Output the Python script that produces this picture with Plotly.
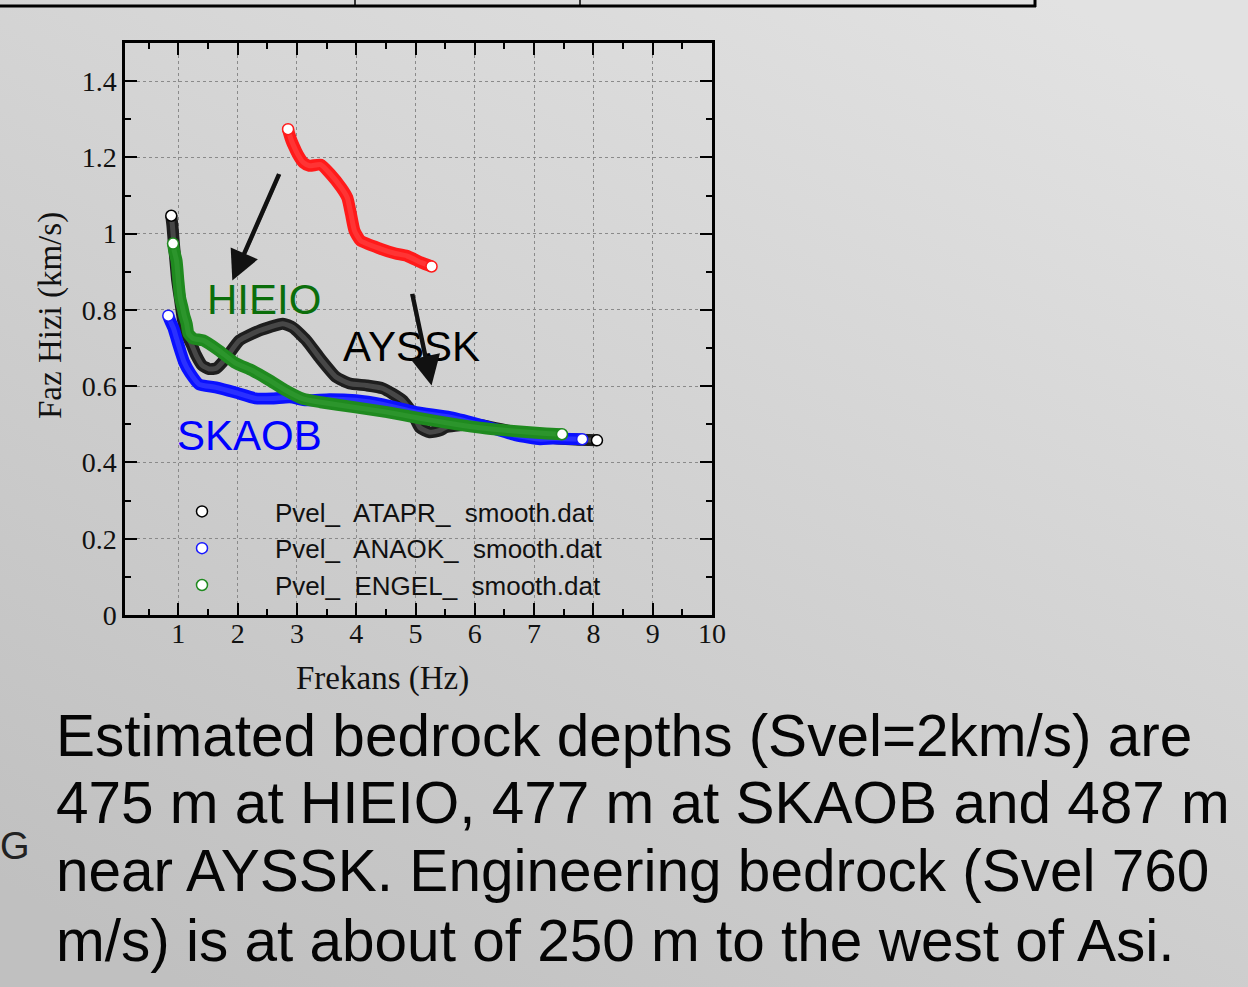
import base64
import plotly.graph_objects as go

# Phase-velocity dispersion curves (frequency in Hz, velocity in km/s)
atapr_f = [0.88, 0.90, 0.92, 0.95, 0.98, 1.03, 1.08, 1.15, 1.23, 1.30, 1.40, 1.52, 1.64, 1.81,
           2.03, 2.37, 2.76, 2.93, 3.16, 3.38, 3.66, 3.89, 4.17, 4.45, 4.78, 4.95, 5.07, 5.24,
           5.41, 5.52, 6.00, 6.60, 7.20, 7.70, 8.06]
atapr_v = [1.047, 1.021, 0.982, 0.929, 0.877, 0.825, 0.772, 0.733, 0.707, 0.681, 0.655, 0.645,
           0.647, 0.675, 0.720, 0.746, 0.764, 0.754, 0.720, 0.675, 0.624, 0.607, 0.602, 0.594,
           0.563, 0.529, 0.492, 0.479, 0.484, 0.493, 0.500, 0.482, 0.466, 0.460, 0.458]

anaok_f = [0.83, 0.86, 0.92, 0.97, 1.03, 1.10, 1.20, 1.35, 1.63, 1.95, 2.30, 2.59, 2.88, 3.16,
           3.55, 3.99, 4.45, 5.01, 5.58, 6.14, 6.70, 7.10, 7.32, 7.81]
anaok_v = [0.785, 0.772, 0.751, 0.725, 0.694, 0.662, 0.634, 0.605, 0.597, 0.584, 0.568, 0.568,
           0.571, 0.563, 0.566, 0.563, 0.552, 0.532, 0.519, 0.497, 0.471, 0.461, 0.463, 0.461]

engel_f = [0.91, 0.93, 0.97, 1.00, 1.03, 1.07, 1.10, 1.14, 1.17, 1.25, 1.42, 1.68, 1.95, 2.25,
           2.52, 2.80, 3.10, 3.40, 3.96, 4.52, 5.07, 5.64, 6.20, 6.76, 7.20, 7.47]
engel_v = [0.974, 0.955, 0.929, 0.877, 0.832, 0.806, 0.785, 0.764, 0.738, 0.725, 0.720, 0.694,
           0.662, 0.641, 0.617, 0.590, 0.567, 0.558, 0.545, 0.532, 0.516, 0.501, 0.489, 0.481,
           0.476, 0.474]

red_f = [2.85, 2.87, 2.91, 2.96, 3.01, 3.11, 3.21, 3.40, 3.56, 3.75, 3.85, 3.91, 3.97, 4.07,
         4.40, 4.66, 4.85, 5.10, 5.27]
red_v = [1.274, 1.262, 1.243, 1.225, 1.209, 1.186, 1.178, 1.181, 1.157, 1.120, 1.094, 1.052,
         1.008, 0.982, 0.961, 0.948, 0.942, 0.924, 0.914]

NB = "\u00a0"
legend_names = [f"Pvel_{NB} ATAPR_{NB} smooth.dat",
                f"Pvel_{NB} ANAOK_{NB} smooth.dat",
                f"Pvel_{NB} ENGEL_{NB} smooth.dat"]
station_labels = ["HIEIO", "AYSSK", "SKAOB"]

x_ticks = [1, 2, 3, 4, 5, 6, 7, 8, 9, 10]

body_lines = [
    "Estimated bedrock depths (Svel=2km/s) are",
    "475 m at HIEIO, 477 m at SKAOB and 487 m",
    "near AYSSK. Engineering bedrock (Svel 760",
    "m/s) is at about of 250 m to the west of Asi.",
]

W, H = 1248, 987
L, R, T, B = 125, 712, 43, 615


def px(x):
    return (x - L) / (R - L)


def py(y):
    return (B - y) / (B - T)


SERIF = "Liberation Serif, Times New Roman, serif"
SANS = "Liberation Sans, Arial, sans-serif"

fig = go.Figure()

# (freq, vel, band colour, inner tint, marker outline, legend name, in legend)
series = [
    (atapr_f, atapr_v, "#1e1e1e", "#474747", "black", legend_names[0], True),
    (anaok_f, anaok_v, "#0a10ff", "#2a30ff", "#1a1aff", legend_names[1], True),
    (engel_f, engel_v, "#1f8a1f", "#2c952c", "#1f8a1f", legend_names[2], True),
    (red_f, red_v, "#ff1a1a", "#ff3434", "#ff1a1a", "red", False),
]

# thick bands for the densely sampled curves, with a lighter core
for f, v, col, tint, _, name, _ in series:
    fig.add_trace(go.Scatter(
        x=f, y=v, mode="lines",
        line=dict(color=col, width=12, shape="spline", smoothing=0.5),
        showlegend=False, hoverinfo="skip",
    ))
    fig.add_trace(go.Scatter(
        x=f, y=v, mode="lines",
        line=dict(color=tint, width=5, shape="spline", smoothing=0.5),
        showlegend=False, hoverinfo="skip",
    ))

# open circle markers at the curve ends (also drive the legend)
for i, (f, v, col, tint, mcol, name, show) in enumerate(series):
    fig.add_trace(go.Scatter(
        x=[f[0], f[-1]], y=[v[0], v[-1]], mode="markers",
        marker=dict(symbol="circle", size=11, color="white",
                    line=dict(color=mcol, width=1.5)),
        name=name, showlegend=show, legendgroup=f"g{i}",
    ))

# gradient backdrop
svg = (
    f'<svg xmlns="http://www.w3.org/2000/svg" width="{W}" height="{H}">'
    '<defs><linearGradient id="g" x1="0.85" y1="0" x2="0.15" y2="1">'
    '<stop offset="0" stop-color="#e2e2e2"/><stop offset="1" stop-color="#c0c0c0"/>'
    '</linearGradient></defs>'
    f'<rect width="{W}" height="{H}" fill="url(#g)"/></svg>'
)
bg_src = "data:image/svg+xml;base64," + base64.b64encode(svg.encode()).decode()

annotations = [
    dict(text="Frekans (Hz)", x=px(382), y=py(678), xref="paper", yref="paper",
         xanchor="center", yanchor="middle", showarrow=False,
         font=dict(family=SERIF, size=33, color="#111")),
    dict(text="Faz Hizi (km/s)", x=px(50), y=py(316), xref="paper", yref="paper",
         xanchor="center", yanchor="middle", textangle=-90, showarrow=False,
         font=dict(family=SERIF, size=33, color="#111")),
    dict(text=station_labels[0], x=2.45, y=0.827, xref="x", yref="y", showarrow=False,
         font=dict(family=SANS, size=42, color="#0b6e0b")),
    dict(text=station_labels[1], x=4.94, y=0.704, xref="x", yref="y", showarrow=False,
         font=dict(family=SANS, size=42, color="#000000")),
    dict(text=station_labels[2], x=2.20, y=0.471, xref="x", yref="y", showarrow=False,
         font=dict(family=SANS, size=42, color="#0000ff")),
    # arrows pointing toward the shifted curves (grey shadow, then black)
    dict(text="", x=1.93, y=0.877, ax=2.73, ay=1.16, xref="x", yref="y",
         axref="x", ayref="y", showarrow=True, arrowhead=0,
         arrowwidth=2, arrowcolor="#7a7a7a", standoff=18),
    dict(text="", x=1.91, y=0.877, ax=2.71, ay=1.16, xref="x", yref="y",
         axref="x", ayref="y", showarrow=True, arrowhead=2, arrowsize=1.35,
         arrowwidth=4.4, arrowcolor="#111"),
    dict(text="", x=5.25, y=0.602, ax=4.92, ay=0.846, xref="x", yref="y",
         axref="x", ayref="y", showarrow=True, arrowhead=0,
         arrowwidth=2, arrowcolor="#7a7a7a", standoff=18),
    dict(text="", x=5.27, y=0.602, ax=4.94, ay=0.846, xref="x", yref="y",
         axref="x", ayref="y", showarrow=True, arrowhead=2, arrowsize=1.35,
         arrowwidth=4.4, arrowcolor="#111"),
    dict(text="G", x=px(-2), y=py(846), xref="paper", yref="paper",
         xanchor="left", yanchor="middle", showarrow=False,
         font=dict(family=SANS, size=38, color="#222")),
]
line_centers = [735, 802, 870, 940]
for txt, yc in zip(body_lines, line_centers):
    annotations.append(dict(
        text=txt, x=px(54), y=py(yc), xref="paper", yref="paper",
        xanchor="left", yanchor="middle", showarrow=False,
        font=dict(family=SANS, size=58.5, color="#050505"),
    ))

# top table border
shapes = [
    dict(type="line", xref="paper", yref="paper", x0=px(0), x1=px(1036), y0=py(6), y1=py(6),
         line=dict(color="black", width=3)),
    dict(type="line", xref="paper", yref="paper", x0=px(355), x1=px(355), y0=py(-2), y1=py(6),
         line=dict(color="black", width=1.5)),
    dict(type="line", xref="paper", yref="paper", x0=px(580), x1=px(580), y0=py(-2), y1=py(6),
         line=dict(color="black", width=1.5)),
    dict(type="line", xref="paper", yref="paper", x0=px(1035), x1=px(1035), y0=py(-2), y1=py(7),
         line=dict(color="black", width=3)),
]

axis_common = dict(
    showline=True, linecolor="black", linewidth=2.5, mirror="allticks",
    ticks="inside", ticklen=12, tickwidth=2, tickcolor="black",
    showgrid=True, gridcolor="#8a8a8a", griddash="dot", gridwidth=1,
    zeroline=False, tickfont=dict(family=SERIF, size=28, color="#111"),
)

fig.update_xaxes(
    range=[0.1, 10], tickmode="array", tickvals=x_ticks, ticklabelstandoff=-8,
    minor=dict(dtick=0.5, tick0=0, ticks="inside", ticklen=6, tickwidth=2, tickcolor="black",
               showgrid=False),
    **axis_common,
)
fig.update_yaxes(
    range=[0, 1.5], tickmode="linear", tick0=0, dtick=0.2,
    minor=dict(dtick=0.1, tick0=0, ticks="inside", ticklen=6, tickwidth=2, tickcolor="black",
               showgrid=False),
    **axis_common,
)

fig.update_layout(
    width=W, height=H,
    margin=dict(l=L, r=W - R, t=T, b=H - B, pad=0),
    paper_bgcolor="#d2d2d2", plot_bgcolor="rgba(0,0,0,0)",
    images=[dict(source=bg_src, xref="paper", yref="paper", x=px(0), y=py(0),
                 sizex=W / (R - L), sizey=H / (B - T), xanchor="left", yanchor="top",
                 sizing="stretch", layer="below")],
    showlegend=True,
    legend=dict(x=px(129), y=py(488), xanchor="left", yanchor="top",
                bgcolor="rgba(0,0,0,0)", borderwidth=0, itemwidth=136,
                font=dict(family=SANS, size=26, color="#111"), tracegroupgap=0),
    annotations=annotations, shapes=shapes,
)

fig.write_html("out.html")
